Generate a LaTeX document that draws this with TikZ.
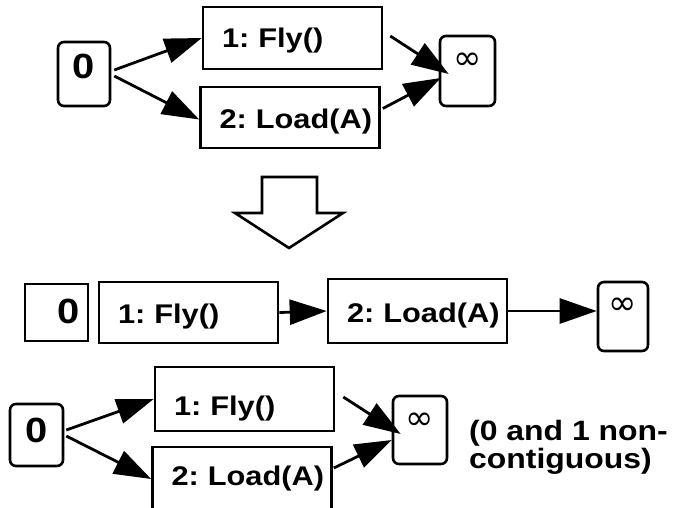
\documentclass[tikz,border=0pt]{standalone}
\usepackage{fontspec}
\setmainfont[FakeStretch=1.14]{Liberation Sans}
\newfontfamily\infsym{DejaVu Sans}
\usetikzlibrary{arrows.meta}
\frenchspacing

\begin{document}
\begin{tikzpicture}[x=1pt, y=-1pt,
    opbox/.style={draw, line width=2.6pt, inner xsep=19pt, inner ysep=0pt, text width=141pt, align=left, anchor=base, font=\fontsize{27}{30}\selectfont\bfseries},
    endbox/.style={draw, line width=2.6pt, rounded corners=6pt, inner sep=0pt, anchor=base},
    zero/.style={font=\fontsize{35}{40}\selectfont\bfseries},
    inf/.style={font=\fontsize{34}{40}\selectfont\infsym},
    arr/.style={line width=2.8pt, -{Triangle[length=37pt, width=25pt]}}]

     \useasboundingbox (0,0) rectangle (679,507);
     \clip (0,0) rectangle (679,507);

     % Plan partiel en haut
     \node[endbox, zero, minimum width=52pt, text height=36pt, text depth=28pt] (t0) at (84,78) {0};
     \node[opbox, text height=40pt, text depth=22pt] (t1) at (292.5,47) {1:~Fly()};
     \node[opbox, text height=41pt, text depth=20pt] (t2) at (290,128) {2:~Load(A)};
     \node[endbox, inf, minimum width=55pt, text height=33pt, text depth=37pt] (tinf) at (467.5,69) {∞};

     \draw[arr] ([xshift=3pt, yshift=4pt]t0.east) -- (t1.west);
     \draw[arr] ([xshift=3pt, yshift=-2pt]t0.east) -- ([yshift=-2pt]t2.west);
     \draw[arr] ([xshift=7pt, yshift=2pt]t1.east) -- ([xshift=10pt, yshift=-3pt]tinf.west);
     \draw[arr] ([xshift=2pt, yshift=9pt]t2.east) -- ([xshift=2pt, yshift=-7pt]tinf.west);

     % Grosse flèche vers le bas
     \draw[line width=2.6pt, fill=white] (262,177) -- (317,177) -- (317,213) -- (343,213)
        -- (289,248) -- (235,213) -- (262,213) -- cycle;

     % Ordre total
     \node[endbox, zero, rounded corners=0pt, inner xsep=8pt, text width=47pt, align=right, text height=39pt, text depth=18pt] (m0) at (56.5,323) {0};
     \node[opbox, text height=41pt, text depth=20pt] (m1) at (188.5,323) {1:~Fly()};
     \node[opbox, text height=43pt, text depth=21pt] (m2) at (417.5,322) {2:~Load(A)};
     \node[endbox, inf, minimum width=50pt, text height=32pt, text depth=37pt] (minf) at (623,314) {∞};

     \draw[arr] (m1.east) -- (m2.west);
     \draw[arr] (m2.east) -- (m2.east -| minf.west);

     % Ordre partiel non contigu
     \node[endbox, zero, minimum width=53pt, text height=38pt, text depth=24pt] (b0) at (36.5,442) {0};
     \node[opbox, text height=48pt, text depth=16pt] (b1) at (244.5,415) {1:~Fly()};
     \node[opbox, text height=38pt, text depth=26pt] (b2) at (242,485) {2:~Load(A)};
     \node[endbox, inf, minimum width=54pt, text height=33pt, text depth=35pt] (binf) at (420,429) {∞};

     \draw[arr] ([xshift=2pt, yshift=5pt]b0.east) -- (b1.west);
     \draw[arr] ([xshift=2pt, yshift=-1pt]b0.east) -- (b2.west);
     \draw[arr] ([xshift=8pt, yshift=2pt]b1.east) -- ([xshift=9pt, yshift=-4pt]binf.west);
     \draw[arr] ([xshift=1pt, yshift=11pt]b2.east) -- ([yshift=-10pt]binf.west);

     \node[anchor=base west, align=left, inner sep=0pt, font=\fontsize{28}{26}\selectfont\bfseries] (note) at (469,468) {(0 and 1 non-\\contiguous)};

   \end{tikzpicture}
\end{document}
